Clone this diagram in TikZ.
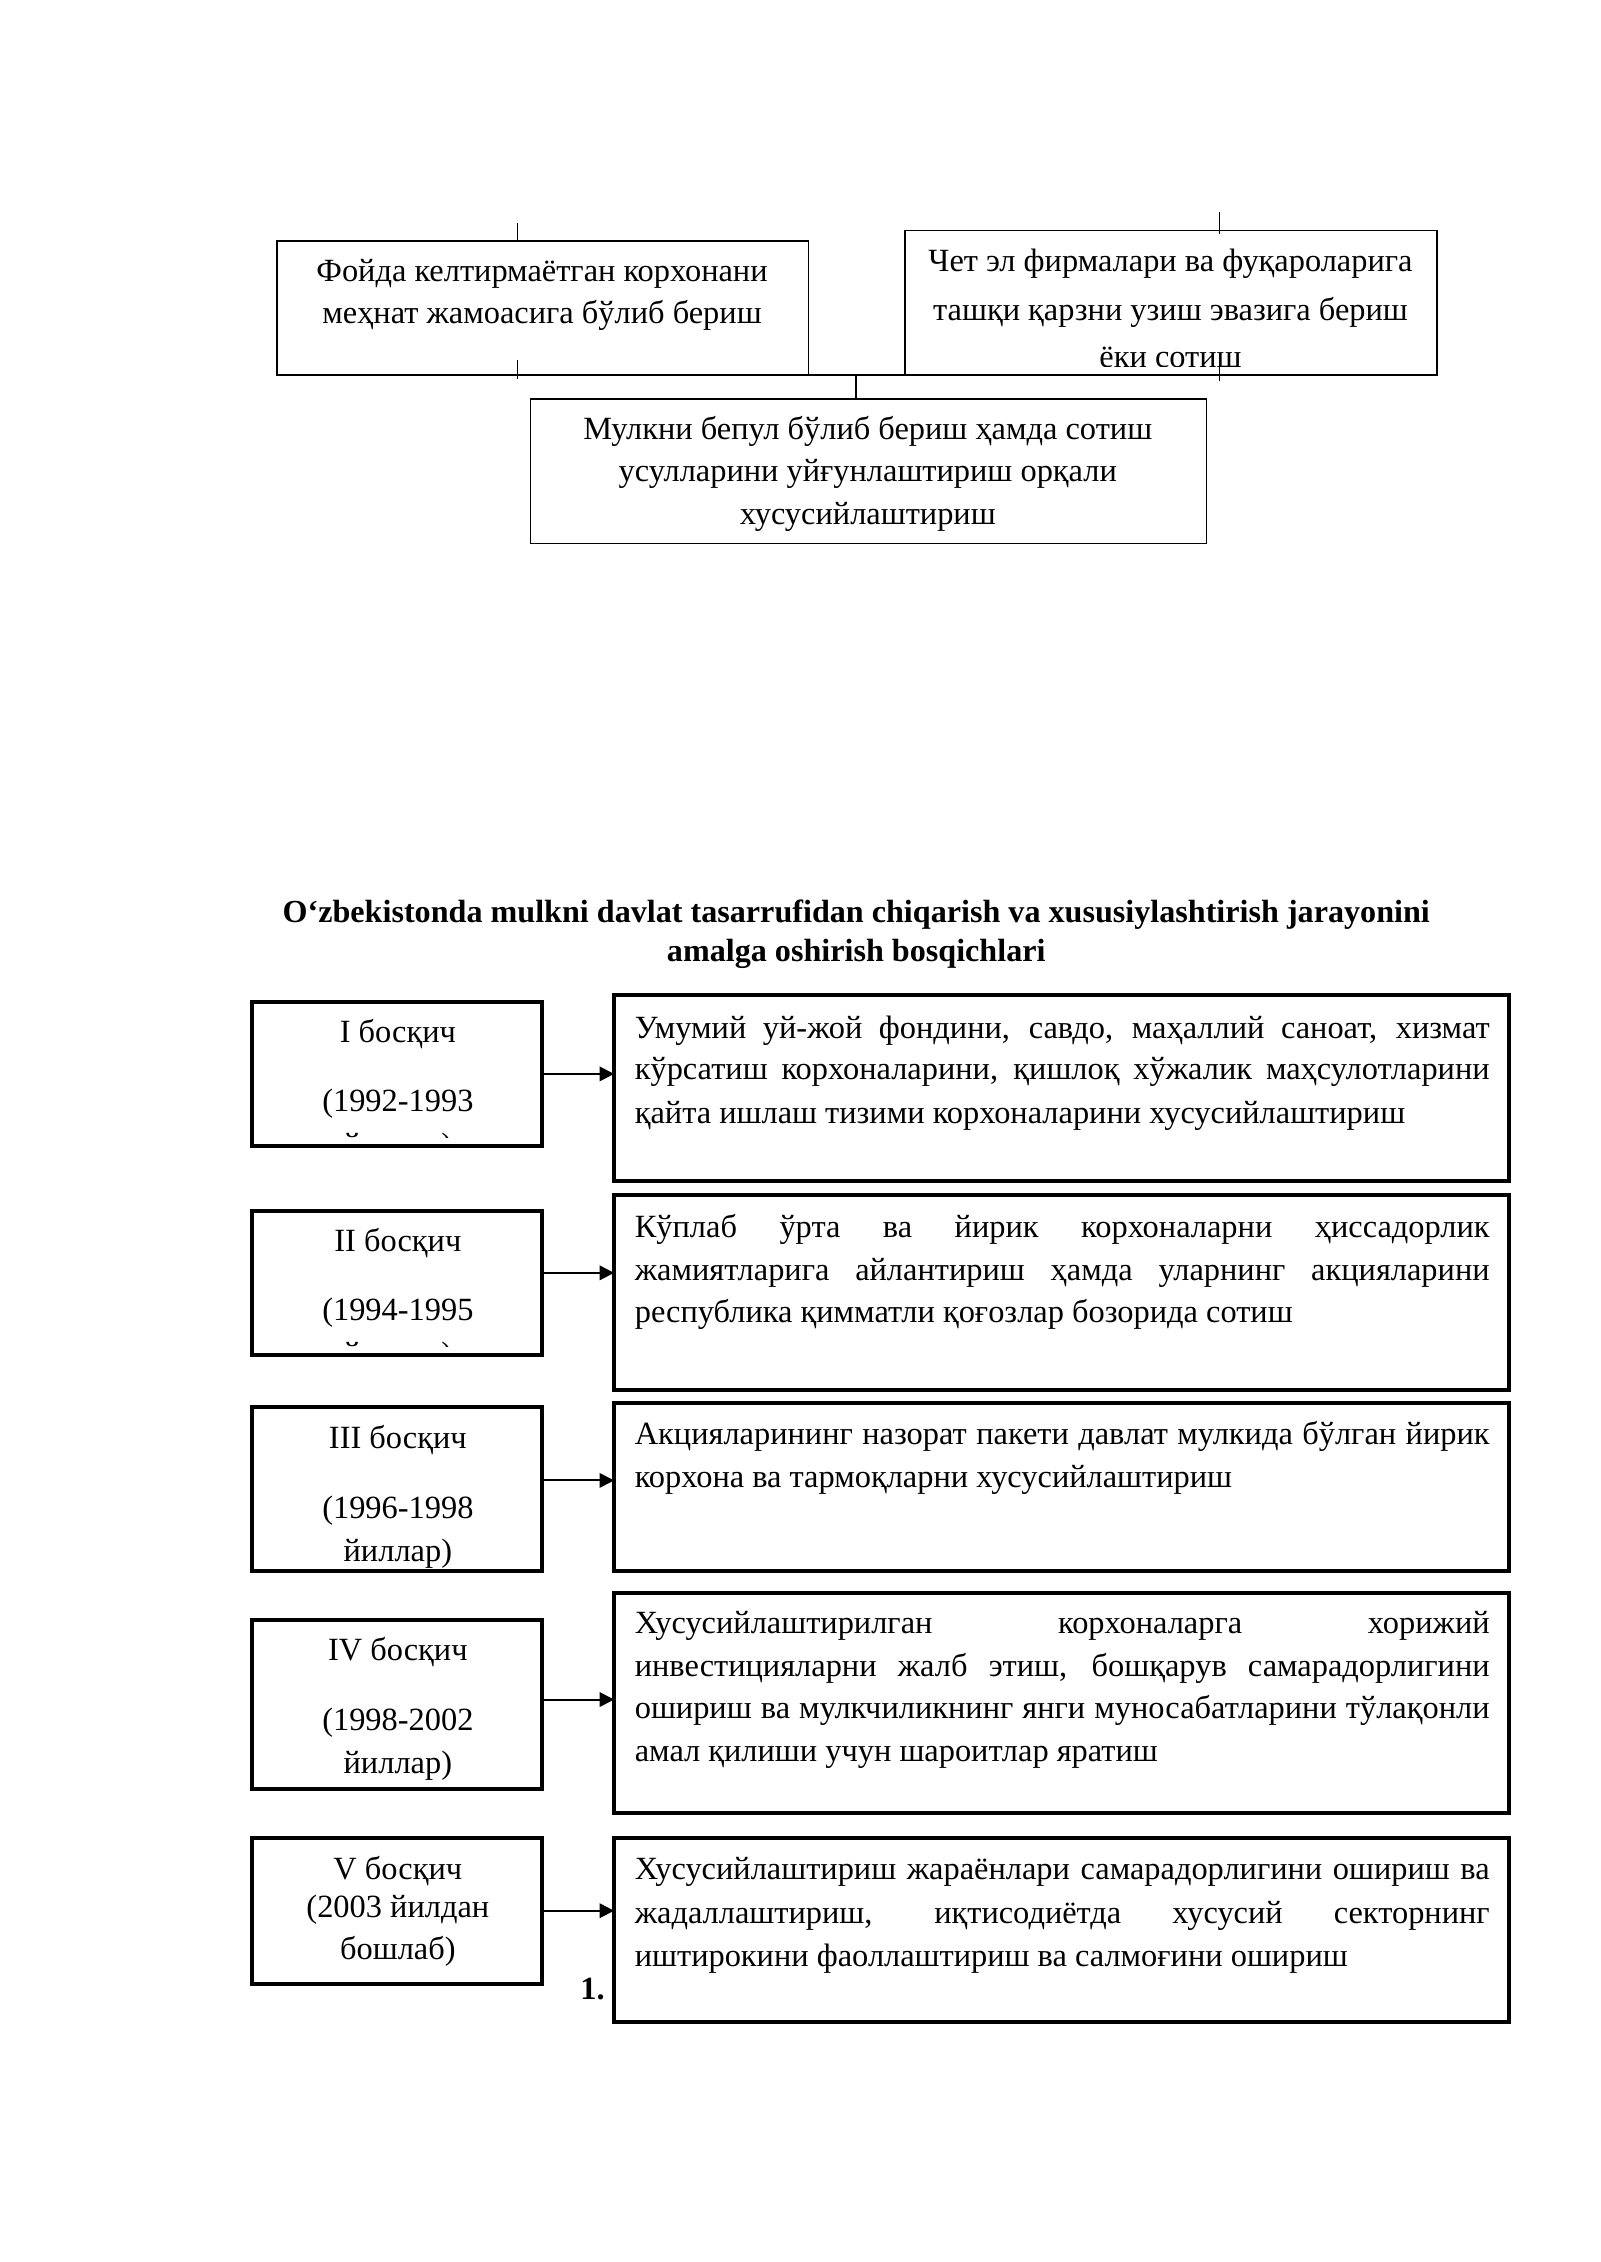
\documentclass[tikz,border=0pt]{standalone}
\usepackage{fontspec}
\setmainfont{Liberation Serif}
\usetikzlibrary{arrows.meta,calc}
\newcommand\du{0.189189mm}
\newlength\jw
\setlength\jw{112.2mm}
\newcommand\jline[1]{\makebox[\jw][s]{#1}}
\tikzset{
  thinbox/.style={draw, line width=0.6pt, inner sep=0pt, outer sep=0pt, anchor=north west},
  thickbox/.style={draw, line width=1.5pt, inner sep=0pt, outer sep=0pt, anchor=north west},
  txt/.style={font=\fontsize{12.1}{15}\selectfont, inner sep=0pt, anchor=mid, yshift=-0.55mm},
  ltxt/.style={font=\fontsize{12.1}{15}\selectfont, inner sep=0pt, anchor=mid west, yshift=-0.55mm},
  ttl/.style={font=\fontsize{12}{14}\selectfont\bfseries, inner sep=0pt, anchor=mid, yshift=-0.65mm},
  arr/.style={line width=0.75pt, -{Triangle[length=1.9mm,width=1.9mm]}},
  conn/.style={line width=0.6pt},
}
\begin{document}
\begin{tikzpicture}[x=0.189189mm, y=-0.189189mm]
\useasboundingbox (0,0) rectangle (1110,1569.2);
% ---------- top section ----------
\node[thinbox, minimum width={369*\du}, minimum height={93*\du}] (A) at (192,167) {};
\node[thinbox, minimum width={369*\du}, minimum height={100*\du}] (B) at (628,160) {};
\node[thinbox, minimum width={469*\du}, minimum height={100*\du}] (C) at (368,277) {};
\node[txt] (a1) at (376,188) {Фойда келтирмаётган корхонани};
\node[txt] (a2) at (376,217) {меҳнат жамоасига бўлиб бериш};
\node[txt] (b1) at (812,181) {Чет эл фирмалари ва фуқароларига};
\node[txt] (b2) at (812,215) {ташқи қарзни узиш эвазига бериш};
\begin{scope}
  \clip (628,232) rectangle (997,254);
  \node[txt] (b3) at (812,248) {ёки сотиш};
\end{scope}
\node[txt] (c1) at (602,298) {Мулкни бепул бўлиб бериш ҳамда сотиш};
\node[txt] (c2) at (602,327) {усулларини уйғунлаштириш орқали};
\node[txt] (c3) at (602,357) {хусусийлаштириш};
\draw[conn] (A.south east) -- (B.south west);
\coordinate (j) at (594,260);
\draw[conn] (j) -- (j |- C.north);
% small tick marks
\draw[conn] (359,155) -- (359,168);
\draw[conn] (359,250) -- (359,263);
\draw[conn] (846,147) -- (846,162);
\draw[conn] (846,250) -- (846,264);
% ---------- title ----------
\node[ttl] (t1) at (594,632) {O‘zbekistonda mulkni davlat tasarrufidan chiqarish va xususiylashtirish jarayonini};
\node[ttl] (t2) at (594,659) {amalga oshirish bosqichlari};
% ---------- stages ----------
\node[thickbox, minimum width={201*\du}, minimum height={100*\du}] (L1) at (175,695) {};
\node[thickbox, minimum width={201*\du}, minimum height={100*\du}] (L2) at (175,840) {};
\node[thickbox, minimum width={201*\du}, minimum height={114*\du}] (L3) at (175,976) {};
\node[thickbox, minimum width={201*\du}, minimum height={117*\du}] (L4) at (175,1124) {};
\node[thickbox, minimum width={201*\du}, minimum height={101*\du}] (L5) at (175,1275) {};
\node[thickbox, minimum width={621*\du}, minimum height={129*\du}] (R1) at (426,690) {};
\node[thickbox, minimum width={621*\du}, minimum height={135*\du}] (R2) at (426,829) {};
\node[thickbox, minimum width={621*\du}, minimum height={117*\du}] (R3) at (426,973) {};
\node[thickbox, minimum width={621*\du}, minimum height={153*\du}] (R4) at (426,1105) {};
\node[thickbox, minimum width={621*\du}, minimum height={128*\du}] (R5) at (426,1275) {};
% left texts
\node[txt] at (276,716) {I босқич};
\node[txt] at (276,764) {(1992-1993};
\begin{scope}
  \clip (180,772) rectangle (372,789);
  \node[txt] at (276,794.5) {йиллар)};
\end{scope}
\node[txt] at (276,861) {II босқич};
\node[txt] at (276,909) {(1994-1995};
\begin{scope}
  \clip (180,918) rectangle (372,934);
  \node[txt] at (276,939.5) {йиллар)};
\end{scope}
\node[txt] at (276,998) {III босқич};
\node[txt] at (276,1046) {(1996-1998};
\node[txt] at (276,1076) {йиллар)};
\node[txt] at (276,1145) {IV босқич};
\node[txt] at (276,1193) {(1998-2002};
\node[txt] at (276,1223) {йиллар)};
\node[txt] at (276,1297) {V босқич};
\node[txt] at (276,1323) {(2003 йилдан};
\node[txt] at (276,1352) {бошлаб)};
% right texts
\node[ltxt] at (440,713) {\jline{Умумий уй-жой фондини, савдо, маҳаллий саноат, хизмат}};
\node[ltxt] at (440,742) {\jline{кўрсатиш корхоналарини, қишлоқ хўжалик маҳсулотларини}};
\node[ltxt] at (440,772) {қайта ишлаш тизими корхоналарини хусусийлаштириш};
\node[ltxt] at (440,851) {\jline{Кўплаб ўрта ва йирик корхоналарни ҳиссадорлик}};
\node[ltxt] at (440,881) {\jline{жамиятларига айлантириш ҳамда уларнинг акцияларини}};
\node[ltxt] at (440,910) {республика қимматли қоғозлар бозорида сотиш};
\node[ltxt] at (440,995) {\jline{Акцияларининг назорат пакети давлат мулкида бўлган йирик}};
\node[ltxt] at (440,1025) {корхона ва тармоқларни хусусийлаштириш};
\node[ltxt] at (440,1126) {\jline{Хусусийлаштирилган корхоналарга хорижий}};
\node[ltxt] at (440,1156) {\jline{инвестицияларни жалб этиш, бошқарув самарадорлигини}};
\node[ltxt] at (440,1185) {\jline{ошириш ва мулкчиликнинг янги муносабатларини тўлақонли}};
\node[ltxt] at (440,1215) {амал қилиши учун шароитлар яратиш};
\node[ltxt] at (440,1297) {\jline{Хусусийлаштириш жараёнлари самарадорлигини ошириш ва}};
\node[ltxt] at (440,1327) {\jline{жадаллаштириш, иқтисодиётда хусусий секторнинг}};
\node[ltxt] at (440,1357) {иштирокини фаоллаштириш ва салмоғини ошириш};
\node[txt, font=\fontsize{12.1}{15}\selectfont\bfseries] (n1) at (411,1380) {1.};
% arrows
\draw[arr] (L1.east) -- (L1.east -| R1.west);
\draw[arr] ($(L2.east)+(0,-7)$) -- ($(L2.east -| R2.west)+(0,-7)$);
\draw[arr] ($(L3.east)+(0,-6)$) -- ($(L3.east -| R3.west)+(0,-6)$);
\draw[arr] ($(L4.east)+(0,-3.5)$) -- ($(L4.east -| R4.west)+(0,-3.5)$);
\draw[arr] (L5.east) -- (L5.east -| R5.west);
\end{tikzpicture}
\end{document}
